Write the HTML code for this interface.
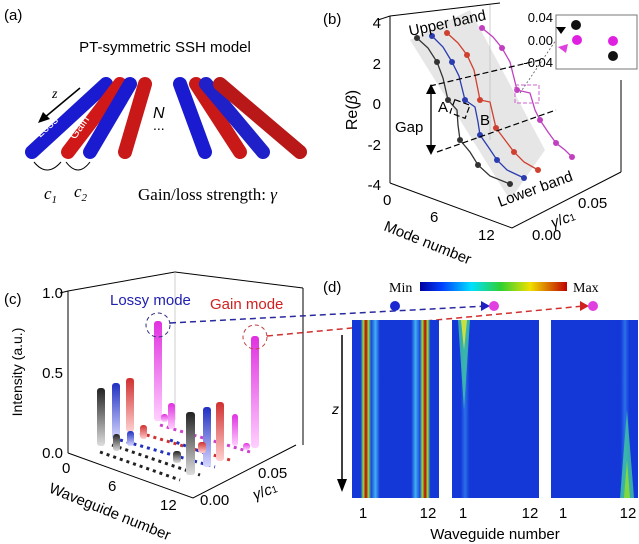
<!DOCTYPE html>
<html><head><meta charset="utf-8"><style>
body{margin:0;background:#fff}
svg{display:block;font-family:"Liberation Sans",sans-serif}
</style></head><body>
<svg width="639" height="544" viewBox="0 0 639 544" xmlns="http://www.w3.org/2000/svg">
<defs>
<linearGradient id="cb" x1="0" x2="1"><stop offset="0" stop-color="#0000a0"/><stop offset=".15" stop-color="#0040ff"/><stop offset=".35" stop-color="#00e0ff"/><stop offset=".55" stop-color="#30d030"/><stop offset=".75" stop-color="#f0e000"/><stop offset="1" stop-color="#c00000"/></linearGradient>
<linearGradient id="h1" x1="0" x2="1">
<stop offset="0" stop-color="#1438d8"/><stop offset=".1" stop-color="#1438d8"/><stop offset=".13" stop-color="#90e040"/><stop offset=".16" stop-color="#c00000"/><stop offset=".19" stop-color="#90e040"/><stop offset=".22" stop-color="#1a48e0"/><stop offset=".27" stop-color="#40b0f0"/><stop offset=".32" stop-color="#1438d8"/><stop offset=".68" stop-color="#1438d8"/><stop offset=".73" stop-color="#40b0f0"/><stop offset=".78" stop-color="#1a48e0"/><stop offset=".81" stop-color="#90e040"/><stop offset=".84" stop-color="#c00000"/><stop offset=".87" stop-color="#90e040"/><stop offset=".9" stop-color="#1438d8"/><stop offset="1" stop-color="#1438d8"/></linearGradient>
<linearGradient id="h2" x1="0" x2="1"><stop offset="0" stop-color="#1438d8"/><stop offset=".1" stop-color="#1438d8"/><stop offset=".15" stop-color="#2a70e8"/><stop offset=".2" stop-color="#1438d8"/><stop offset="1" stop-color="#1438d8"/></linearGradient>
<linearGradient id="h3" x1="0" x2="1"><stop offset="0" stop-color="#1438d8"/><stop offset=".8" stop-color="#1438d8"/><stop offset=".85" stop-color="#2a70e8"/><stop offset=".9" stop-color="#1438d8"/><stop offset="1" stop-color="#1438d8"/></linearGradient>
<linearGradient id="gk" x1="0" x2="0" y1="0" y2="1"><stop offset="0" stop-color="#222"/><stop offset="1" stop-color="#ddd"/></linearGradient>
<linearGradient id="gb" x1="0" x2="0" y1="0" y2="1"><stop offset="0" stop-color="#2030c0"/><stop offset="1" stop-color="#d8d8ff"/></linearGradient>
<linearGradient id="gr" x1="0" x2="0" y1="0" y2="1"><stop offset="0" stop-color="#d03030"/><stop offset="1" stop-color="#ffd0d0"/></linearGradient>
<linearGradient id="gm" x1="0" x2="0" y1="0" y2="1"><stop offset="0" stop-color="#e030e0"/><stop offset="1" stop-color="#ffd0ff"/></linearGradient>
</defs>

<!-- panel a -->
<text x="4" y="20" font-size="15">(a)</text>
<text x="165" y="52" font-size="15" text-anchor="middle">PT-symmetric SSH model</text>
<g stroke-linecap="round" stroke-width="14">
<line x1="106" y1="84" x2="32" y2="152" stroke="#1a1ad0"/>
<line x1="120" y1="84" x2="68" y2="152" stroke="#d01818"/>
<line x1="130" y1="84" x2="90" y2="152" stroke="#1a1ad0"/>
<line x1="145" y1="84" x2="125" y2="152" stroke="#c81818"/>
<line x1="180" y1="84" x2="205" y2="152" stroke="#1a1ad0"/>
<line x1="196" y1="84" x2="240" y2="152" stroke="#c81818"/>
<line x1="206" y1="84" x2="263" y2="152" stroke="#2020c8"/>
<line x1="220" y1="84" x2="300" y2="152" stroke="#b81818"/>
</g>
<text x="40" y="138" font-size="12" fill="#fff" transform="rotate(-42 40 138)">Loss</text>
<text x="75" y="140" font-size="12" fill="#fff" transform="rotate(-55 75 140)">Gain</text>
<line x1="80" y1="88" x2="44" y2="118" stroke="#000" stroke-width="1.5"/>
<polygon points="38,123 43,112 50,119" fill="#000"/>
<text x="52" y="98" font-size="14" font-style="italic" font-family="Liberation Serif,serif">z</text>
<text x="153" y="118" font-size="16" font-style="italic">N</text>
<text x="153" y="130" font-size="14">...</text>
<path d="M34,162 Q47,178 61,162 M66,162 Q78,178 90,162" fill="none" stroke="#000"/>
<text x="44" y="199" font-size="17" font-style="italic" font-family="Liberation Serif,serif">c<tspan font-size="11" dy="4">1</tspan></text>
<text x="74" y="197" font-size="17" font-style="italic" font-family="Liberation Serif,serif">c<tspan font-size="11" dy="4">2</tspan></text>
<text x="138" y="200" font-size="17" font-family="Liberation Serif,serif">Gain/loss strength: <tspan font-style="italic">γ</tspan></text>

<!-- panel b -->
<text x="323" y="24" font-size="15">(b)</text>
<polygon points="410,40 470,10 545,150 510,200" fill="#e6e6e6"/>
<polyline points="378,20 390,16 500,3" fill="none" stroke="#000"/>
<line x1="390" y1="16" x2="390" y2="183" stroke="#000"/>
<polyline points="390,183 512,228 621,172" fill="none" stroke="#000"/>
<line x1="621" y1="80" x2="621" y2="172" stroke="#000"/>
<line x1="490" y1="5" x2="490" y2="140" stroke="#bbb" stroke-width=".7"/>
<g font-size="15" text-anchor="end"><text x="381" y="28">4</text><text x="381" y="69">2</text><text x="381" y="109">0</text><text x="381" y="150">-2</text><text x="381" y="190">-4</text></g>
<text x="357" y="110" font-size="16" transform="rotate(-90 357 110)" text-anchor="middle">Re(<tspan font-style="italic">β</tspan>)</text>
<g font-size="15"><text x="383" y="205">0</text><text x="430" y="222">6</text><text x="478" y="240">12</text><text x="578" y="208">0.05</text><text x="532" y="240">0.00</text></g>
<text x="383" y="230" font-size="15" transform="rotate(22 383 230)">Mode number</text>
<text x="553" y="228" font-size="15" transform="rotate(-20 553 228)"><tspan font-style="italic">γ</tspan>/<tspan font-style="italic">c</tspan><tspan font-size="10">1</tspan></text>
<g fill="none" stroke-width="1.3">
<polyline points="417,38 428,48 437,62 443,78 448,100 457,110 458,125 460,140 470,152 478,165 490,176 510,184" stroke="#333"/>
<polyline points="432,36 443,47 452,62 459,76 465,100 475,107 478,122 480,135 489,148 497,160 507,170 524,178" stroke="#2a3cb0"/>
<polyline points="447,33 458,43 467,55 474,70 480,100 490,102 493,115 496,128 505,140 514,152 524,162 538,170" stroke="#d04030"/>
<polyline points="482,28 493,37 502,48 510,62 517,90 530,93 535,110 540,120 548,132 556,143 565,150 572,157" stroke="#c040c0"/>
</g>
<g fill="#333"><circle cx="417" cy="38" r="3"/><circle cx="437" cy="62" r="3"/><circle cx="448" cy="100" r="3"/><circle cx="460" cy="140" r="3"/><circle cx="478" cy="165" r="3"/><circle cx="510" cy="184" r="3"/></g>
<g fill="#2a3cb0"><circle cx="432" cy="36" r="3"/><circle cx="452" cy="62" r="3"/><circle cx="465" cy="100" r="3"/><circle cx="480" cy="135" r="3"/><circle cx="497" cy="160" r="3"/><circle cx="524" cy="178" r="3"/></g>
<g fill="#d04030"><circle cx="447" cy="33" r="3"/><circle cx="467" cy="55" r="3"/><circle cx="480" cy="100" r="3"/><circle cx="496" cy="128" r="3"/><circle cx="514" cy="152" r="3"/><circle cx="538" cy="170" r="3"/></g>
<g fill="#c040c0"><circle cx="482" cy="28" r="3"/><circle cx="502" cy="48" r="3"/><circle cx="517" cy="90" r="3"/><circle cx="540" cy="120" r="3"/><circle cx="556" cy="143" r="3"/><circle cx="572" cy="157" r="3"/></g>
<g stroke="#000" stroke-dasharray="6,3" fill="none" stroke-width="1.2">
<line x1="430" y1="86" x2="540" y2="60"/><line x1="437" y1="152" x2="556" y2="110"/>
<rect x="452" y="102" width="16" height="14" transform="rotate(20 460 109)"/>
</g>
<rect x="515" y="85" width="24" height="18" fill="none" stroke="#d060d0" stroke-dasharray="4,2"/>
<line x1="431" y1="87" x2="431" y2="152" stroke="#000" stroke-width="1.3"/>
<polygon points="431,84 426,94 436,94" fill="#000"/><polygon points="431,155 426,145 436,145" fill="#000"/>
<text x="395" y="132" font-size="15">Gap</text><text x="438" y="112" font-size="15">A</text><text x="480" y="125" font-size="15">B</text>
<text x="410" y="36" font-size="15" transform="rotate(-12 410 36)">Upper band</text>
<text x="500" y="207" font-size="15" transform="rotate(-20 500 207)">Lower band</text>
<rect x="556" y="15" width="81" height="54" fill="#fff" stroke="#777"/>
<g font-size="13" text-anchor="end"><text x="553" y="22">0.04</text><text x="553" y="45">0.00</text><text x="553" y="67">-0.04</text></g>
<line x1="520" y1="93" x2="556" y2="40" stroke="#555" stroke-dasharray="2,2" stroke-width=".8"/>
<circle cx="576" cy="25" r="5" fill="#111"/><circle cx="577" cy="40" r="5" fill="#e020e0"/><circle cx="613" cy="41" r="5" fill="#e020e0"/><circle cx="613" cy="56" r="5" fill="#111"/>
<polygon points="556,27 566,27 561,34" fill="#000"/><polygon points="558,47 568,44 566,53" fill="#e040e0"/>

<!-- panel c -->
<text x="4" y="304" font-size="15">(c)</text>
<polyline points="60,293 68,291 175,272 303,288" fill="none" stroke="#000"/>
<line x1="68" y1="291" x2="68" y2="453" stroke="#000"/>
<line x1="175" y1="272" x2="175" y2="420" stroke="#bbb" stroke-width=".7"/>
<line x1="303" y1="288" x2="303" y2="445" stroke="#000"/>
<polyline points="68,453 193,498 296,445" fill="none" stroke="#000"/>
<g font-size="15" text-anchor="end"><text x="63" y="298">1.0</text><text x="63" y="378">0.5</text><text x="63" y="458">0.0</text></g>
<text x="22" y="372" font-size="14" transform="rotate(-90 22 372)" text-anchor="middle">Intensity (a.u.)</text>
<g font-size="15"><text x="62" y="473">0</text><text x="108" y="491">6</text><text x="160" y="510">12</text><text x="258" y="478">0.05</text><text x="200" y="505">0.00</text></g>
<text x="48" y="492" font-size="15" transform="rotate(22 48 492)">Waveguide number</text>
<text x="255" y="500" font-size="15" transform="rotate(-20 255 500)"><tspan font-style="italic">γ</tspan>/<tspan font-style="italic">c</tspan><tspan font-size="10">1</tspan></text>
<g stroke-dasharray="3,4" stroke-width="3">
<line x1="100" y1="452" x2="180" y2="480" stroke="#222"/>
<line x1="112" y1="445" x2="200" y2="475" stroke="#222"/>
<line x1="120" y1="440" x2="215" y2="467" stroke="#2030c0"/>
<line x1="140" y1="433" x2="230" y2="460" stroke="#d03030"/>
<line x1="160" y1="425" x2="250" y2="452" stroke="#d040d0"/>
<line x1="170" y1="440" x2="210" y2="455" stroke="#2030c0"/>
</g>
<g>
<rect x="97" y="388" width="8" height="58" rx="3" fill="url(#gk)"/>
<rect x="112" y="383" width="8" height="57" rx="3" fill="url(#gb)"/>
<rect x="126" y="378" width="8" height="54" rx="3" fill="url(#gr)"/>
<rect x="154" y="321" width="8" height="100" rx="3" fill="url(#gm)"/>
<rect x="168" y="403" width="7" height="26" rx="3" fill="url(#gm)"/>
<rect x="161" y="414" width="7" height="8" rx="3" fill="url(#gm)"/>
<rect x="140" y="425" width="7" height="14" rx="3" fill="url(#gr)"/>
<rect x="127" y="431" width="7" height="15" rx="3" fill="url(#gb)"/>
<rect x="113" y="434" width="7" height="17" rx="3" fill="url(#gk)"/>
<rect x="186" y="412" width="9" height="63" rx="3" fill="url(#gk)"/>
<rect x="203" y="407" width="8" height="60" rx="3" fill="url(#gb)"/>
<rect x="216" y="402" width="8" height="59" rx="3" fill="url(#gr)"/>
<rect x="232" y="414" width="6" height="32" rx="3" fill="url(#gm)"/>
<rect x="251" y="336" width="8" height="112" rx="3" fill="url(#gm)"/>
<rect x="173" y="451" width="8" height="12" rx="3" fill="url(#gk)"/>
<rect x="198" y="442" width="8" height="11" rx="3" fill="url(#gr)"/>
<rect x="243" y="443" width="7" height="7" rx="3" fill="url(#gm)"/>
</g>
<text x="110" y="305" font-size="15" fill="#2020b0">Lossy mode</text>
<text x="210" y="309" font-size="15" fill="#d02020">Gain mode</text>
<circle cx="158" cy="325" r="12" fill="none" stroke="#303080" stroke-dasharray="4,3"/>
<circle cx="255" cy="337" r="12" fill="none" stroke="#c04040" stroke-dasharray="4,3"/>
<line x1="170" y1="323" x2="487" y2="306" stroke="#2a2aa0" stroke-dasharray="6,4" stroke-width="1.5"/>
<line x1="267" y1="336" x2="584" y2="306" stroke="#d03030" stroke-dasharray="6,4" stroke-width="1.5"/>

<!-- panel d -->
<text x="323" y="292" font-size="15">(d)</text>
<text x="389" y="292" font-size="14" font-family="Liberation Serif,serif">Min</text>
<rect x="420" y="282" width="147" height="9" fill="url(#cb)"/>
<text x="573" y="292" font-size="14" font-family="Liberation Serif,serif">Max</text>
<circle cx="395" cy="306" r="5" fill="#1a2ad0"/>
<polygon points="481,301 481,311 490,306" fill="#2020c0"/><circle cx="494" cy="306" r="5" fill="#e040e0"/>
<polygon points="580,301 580,311 589,306" fill="#d02020"/><circle cx="593" cy="306" r="5" fill="#e040e0"/>
<rect x="352" y="320" width="87" height="178" fill="url(#h1)"/>
<rect x="452" y="320" width="87" height="178" fill="url(#h2)"/>
<polygon points="458,320 470,320 464,410" fill="#40c8a0" opacity=".8"/>
<polygon points="461,320 467,320 464,350" fill="#c8e040"/>
<rect x="551" y="320" width="87" height="178" fill="url(#h3)"/>
<polygon points="620,498 634,498 627,410" fill="#40c8a0" opacity=".8"/>
<polygon points="624,498 630,498 627,460" fill="#80d840"/>
<line x1="342" y1="335" x2="342" y2="480" stroke="#000" stroke-width="1.5"/>
<polygon points="337,479 347,479 342,492" fill="#000"/>
<text x="332" y="414" font-size="14" font-style="italic">z</text>
<g font-size="15" text-anchor="middle"><text x="363" y="518">1</text><text x="428" y="518">12</text><text x="463" y="518">1</text><text x="530" y="518">12</text><text x="563" y="518">1</text><text x="628" y="518">12</text></g>
<text x="495" y="539" font-size="15" text-anchor="middle">Waveguide number</text>
</svg>
</body></html>
